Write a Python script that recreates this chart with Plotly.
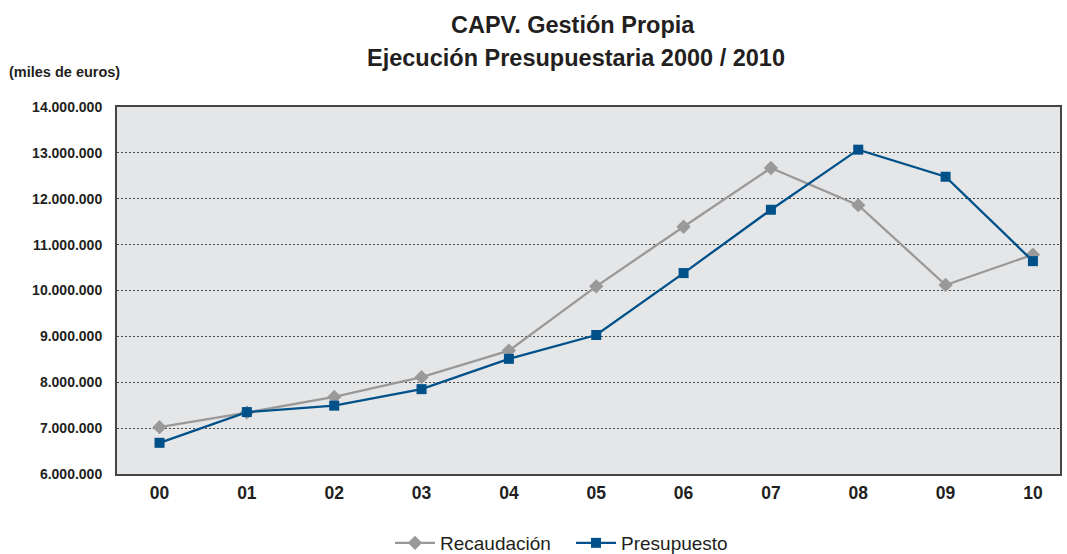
import plotly.graph_objects as go

years = ["00", "01", "02", "03", "04", "05", "06", "07", "08", "09", "10"]
recaudacion = [7020000, 7340000, 7680000, 8110000, 8690000, 10090000, 11390000, 12670000, 11860000, 10120000, 10780000]
presupuesto = [6680000, 7350000, 7490000, 7850000, 8510000, 9030000, 10380000, 11760000, 13070000, 12480000, 10640000]
title_lines = ["CAPV. Gestión Propia", "Ejecución Presupuestaria 2000 / 2010"]
unit_label = "(miles de euros)"

GRAY = "#999999"
BLUE = "#00518a"
TXT = "#231f20"
FONT = "Liberation Sans, Arial, sans-serif"

W, H = 1067, 554
L, R, T, B = 117, 5, 107, 80
PW, PH = W - L - R, H - T - B

def px_x(px):
    return (px - L) / PW

def px_y(py):
    return 1 + (T - py) / PH

fig = go.Figure()
fig.add_trace(go.Scatter(
    x=list(range(len(years))), y=recaudacion, name="Recaudación", mode="lines+markers",
    line=dict(color=GRAY, width=2.3),
    marker=dict(symbol="diamond", size=11, color=GRAY),
))
fig.add_trace(go.Scatter(
    x=list(range(len(years))), y=presupuesto, name="Presupuesto", mode="lines+markers",
    line=dict(color=BLUE, width=2.3),
    marker=dict(symbol="square", size=10, color=BLUE),
))

fig.update_layout(
    width=W, height=H,
    margin=dict(l=L, r=R, t=T, b=B),
    paper_bgcolor="white",
    plot_bgcolor="#e5e6e8",
    separators=",.",
    font=dict(family=FONT, color=TXT),
    showlegend=True,
    legend=dict(
        orientation="h", xref="container", yref="container",
        x=390 / W, xanchor="left", y=1 - 543 / H, yanchor="middle",
        font=dict(size=19, family=FONT, color=TXT),
        bgcolor="rgba(0,0,0,0)",
        itemwidth=40,
        entrywidth=126, entrywidthmode="pixels",
    ),
    xaxis=dict(
        range=[-0.487, 10.31],
        tickmode="array", tickvals=list(range(len(years))), ticktext=years,
        tickfont=dict(size=17.5, family=FONT, color=TXT, weight="bold"),
        showgrid=False, zeroline=False,
        showline=True, linecolor="#454545", linewidth=2, mirror=True,
        ticks="", ticklabelstandoff=2,
    ),
    yaxis=dict(
        range=[6000000, 14000000], dtick=1000000, tickformat=",.0f",
        tickfont=dict(size=14, family=FONT, color=TXT, weight="bold"),
        showgrid=True, gridcolor="#4a4a4a", griddash="2px,2px", gridwidth=1,
        zeroline=False,
        showline=True, linecolor="#454545", linewidth=2, mirror=True,
        ticks="", ticklabelstandoff=10,
    ),
)

fig.add_annotation(
    text="<b>" + title_lines[0] + "</b>", xref="paper", yref="paper",
    x=px_x(574), xanchor="center", y=px_y(25), yanchor="middle", showarrow=False,
    font=dict(size=23.5, family=FONT, color=TXT),
)
fig.add_annotation(
    text="<b>" + title_lines[1] + "</b>", xref="paper", yref="paper",
    x=px_x(577), xanchor="center", y=px_y(58), yanchor="middle", showarrow=False,
    font=dict(size=23.5, family=FONT, color=TXT),
)
fig.add_annotation(
    text="<b>" + unit_label + "</b>", xref="paper", yref="paper",
    x=px_x(7), xanchor="left", y=px_y(72), yanchor="middle", showarrow=False,
    font=dict(size=14.5, family=FONT, color=TXT),
)

fig.write_html(
    "out.html",
    config={"displayModeBar": False},
    post_script="document.body.style.margin='0';document.body.style.overflow='hidden';",
)
